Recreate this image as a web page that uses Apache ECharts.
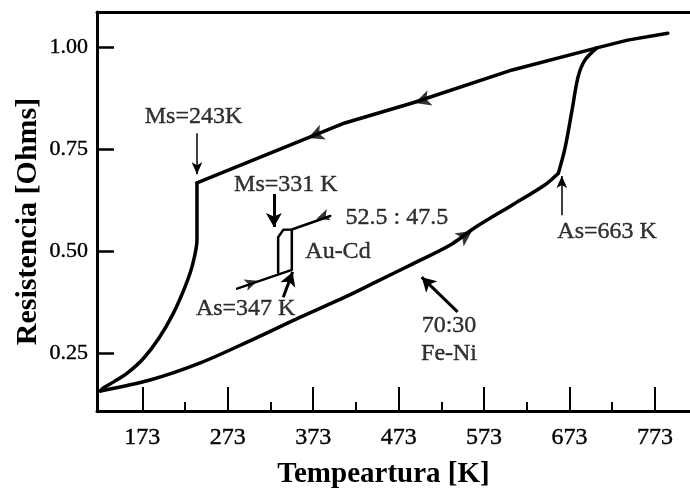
<!DOCTYPE html>
<html><head><meta charset="utf-8">
<script src="https://cdn.jsdelivr.net/npm/echarts@6/dist/echarts.min.js"></script>
<style>html,body{margin:0;padding:0;background:#fff}#c{width:690px;height:488px}</style>
</head><body><div id="c"></div>
<script>
// ---- data ----
const xTicks = [173, 273, 373, 473, 573, 673, 773];
const xMinorTicks = [223, 323, 423, 523, 623, 723];
const yTicks = [0.25, 0.50, 0.75, 1.00];

// Fe-Ni 70:30 heating branch (T [K], R [Ohms])
const feNiHeatingLow = [[124,0.157],[182,0.184],[241,0.226],[299,0.280],[358,0.338],[410,0.387],[449,0.427],[489,0.468],[535,0.517],[562,0.557],[606,0.613],[644,0.662],[660,0.691]];
const feNiHeatingRise = [[660,0.691],[668,0.755],[676,0.846],[683,0.927],[691,0.968],[705,0.998]];
// Fe-Ni cooling branch
const feNiCoolingUpper = [[788,1.034],[741,1.017],[705,0.998],[606,0.944],[489,0.863],[410,0.814],[237,0.667]];
const feNiCoolingLower = [[237,0.667],[237,0.527],[232,0.468],[223,0.412],[209,0.346],[192,0.285],[174,0.236],[155,0.200],[140,0.180],[127,0.164],[124,0.157]];
// Au-Cd 52.5:47.5 loop
const auCdHeating = [[284,0.408],[348,0.454],[348,0.551]];
const auCdCooling = [[393,0.586],[348,0.553],[338,0.552],[332,0.534],[332,0.446]];

// direction arrows on the curves: [T, R]
const feNiCoolArrows = [[367,0.777],[492,0.863]];
const feNiHeatArrows = [[559,0.550]];
const auCdHeatArrows = [[308,0.427]];
const auCdCoolArrows = [[377,0.579]];

// annotation texts: [text, T, R]
const labelTexts = [
  ['Ms=243K', 233, 0.829],
  ['Ms=331 K', 341, 0.662],
  ['52.5 : 47.5', 471, 0.583],
  ['Au-Cd', 402, 0.498],
  ['As=347 K', 294, 0.358],
  ['As=663 K', 717, 0.547],
  ['70:30', 532, 0.316],
  ['Fe-Ni', 532, 0.248]
];
// annotation pointer arrows: [[T1,R1],[T2,R2]] (tail -> head)
const thinPointers = [[[237,0.789],[237,0.688]], [[664,0.588],[664,0.684]]];
const boldPointers = [[[327,0.640],[327,0.559]], [[338,0.387],[349,0.449]], [[542,0.351],[500,0.436]]];

// ---- chart ----
const X_MIN = 120, X_MAX = 814, Y_MIN = 0.108, Y_MAX = 1.086;
const G = {left: 97, right: 0, top: 12, bottom: 77};
const PW = 690 - G.left - G.right, PH = 488 - G.top - G.bottom;
const kx = PW / (X_MAX - X_MIN), ky = PH / (Y_MAX - Y_MIN);
const FONT = 'Liberation Serif';

function arrowAngle(curve, t, dir) {
  for (let i = 0; i < curve.length - 1; i++) {
    const a = curve[i], b = curve[i + 1];
    if (a[0] === b[0]) continue;
    if (t >= Math.min(a[0], b[0]) && t <= Math.max(a[0], b[0])) {
      let dx = (b[0] - a[0]) * kx, dy = (b[1] - a[1]) * ky;
      if (dx * dir < 0) { dx = -dx; dy = -dy; }
      return Math.atan2(dy, dx) * 180 / Math.PI - 90;
    }
  }
  return 0;
}
function arrowData(points, curve, dir) {
  return points.map(p => ({value: p, symbolRotate: arrowAngle(curve, p[0], dir)}));
}

const chart = echarts.init(document.getElementById('c'), null, {renderer: 'canvas'});
const black = '#000';
const curveLine = (data, w, smooth) => ({
  type: 'line', data, showSymbol: false, symbol: 'none', silent: true, smooth: smooth || false,
  lineStyle: {color: black, width: w, join: 'round', cap: 'round'}, animation: false
});
const arrowSeries = (data, size) => ({
  type: 'scatter', data, symbol: 'arrow', symbolSize: size, silent: true,
  itemStyle: {color: black}, animation: false, z: 5
});
const pointerSeries = (pairs, w, size) => ({
  type: 'line', data: [], silent: true, animation: false,
  markLine: {
    silent: true, animation: false, symbol: ['none', 'arrow'], symbolSize: size,
    label: {show: false},
    lineStyle: {color: black, width: w, type: 'solid'},
    emphasis: {disabled: true},
    data: pairs.map(p => [{coord: p[0]}, {coord: p[1]}])
  }
});
const txt = {color: black, fontFamily: FONT, textBorderColor: black, textBorderWidth: 0.4};

chart.setOption({
  animation: false,
  backgroundColor: '#fff',
  grid: {left: G.left, right: G.right, top: G.top, bottom: G.bottom, containLabel: false, outerBoundsMode: 'none'},
  xAxis: [
    {
      type: 'value', min: X_MIN, max: X_MAX, position: 'bottom',
      axisLine: {show: true, onZero: false, lineStyle: {color: black, width: 3}},
      axisTick: {show: true, inside: true, length: 24, customValues: xTicks, lineStyle: {color: black, width: 2}},
      axisLabel: Object.assign({show: true, customValues: xTicks, margin: 15, fontSize: 24}, txt),
      splitLine: {show: false},
      name: 'Tempeartura [K]', nameLocation: 'middle', nameGap: 49, nameMoveOverlap: false,
      nameTextStyle: {color: black, fontFamily: FONT, fontSize: 29, fontWeight: 'bold', padding: [0, 20, 0, 0]}
    },
    {
      type: 'value', min: X_MIN, max: X_MAX, position: 'bottom',
      axisLine: {show: false},
      axisTick: {show: true, inside: true, length: 9, customValues: xMinorTicks, lineStyle: {color: black, width: 2}},
      axisLabel: {show: false}, splitLine: {show: false}
    },
    {
      type: 'value', min: X_MIN, max: X_MAX, position: 'top',
      axisLine: {show: true, onZero: false, lineStyle: {color: black, width: 3}},
      axisTick: {show: false}, axisLabel: {show: false}, splitLine: {show: false}
    }
  ],
  yAxis: {
    type: 'value', min: Y_MIN, max: Y_MAX,
    axisLine: {show: true, onZero: false, lineStyle: {color: black, width: 3}},
    axisTick: {show: true, inside: true, length: 17, customValues: yTicks, lineStyle: {color: black, width: 2.5}},
    axisLabel: Object.assign({show: true, customValues: yTicks, margin: 9, fontSize: 22,
      formatter: v => v.toFixed(2)}, txt),
    splitLine: {show: false},
    name: 'Resistencia [Ohms]', nameLocation: 'middle', nameGap: 54, nameMoveOverlap: false,
    nameTextStyle: {color: black, fontFamily: FONT, fontSize: 30, fontWeight: 'bold', padding: [0, 20, 0, 0]}
  },
  series: [
    curveLine(feNiHeatingLow, 3.5, 0.3),
    curveLine(feNiHeatingRise, 3.5, 0.3),
    curveLine(feNiCoolingUpper, 3.5, false),
    curveLine(feNiCoolingLower, 3.5, 0.3),
    curveLine(auCdHeating, 2.5, false),
    curveLine(auCdCooling, 2.5, false),
    arrowSeries(arrowData(feNiCoolArrows, feNiCoolingUpper, -1), [12, 16]),
    arrowSeries(arrowData(feNiHeatArrows, feNiHeatingLow, 1), [12, 16]),
    arrowSeries(arrowData(auCdHeatArrows, auCdHeating, 1), [9, 13]),
    arrowSeries(arrowData(auCdCoolArrows, auCdCooling, -1), [9, 13]),
    pointerSeries(thinPointers, 1.5, [8, 12]),
    pointerSeries(boldPointers, 3, [12, 14]),
    {
      type: 'scatter', silent: true, animation: false, symbolSize: 1,
      itemStyle: {color: 'rgba(0,0,0,0)'},
      data: labelTexts.map(l => ({name: l[0], value: [l[1], l[2]]})),
      label: Object.assign({show: true, position: 'inside', formatter: '{b}', fontSize: 24}, txt),
      z: 6
    }
  ]
});
</script></body></html>
